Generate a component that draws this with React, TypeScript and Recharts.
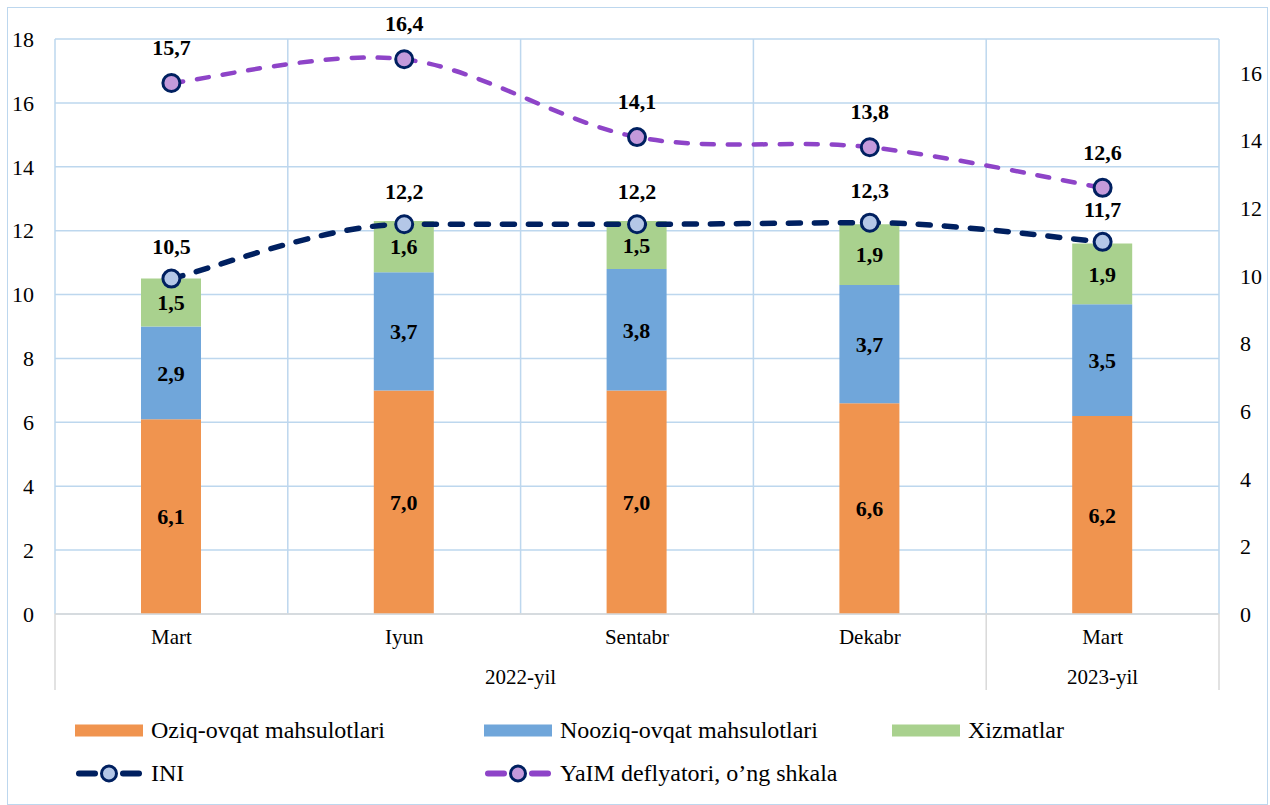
import React from "react";
import {
  ComposedChart,
  Bar,
  Line,
  XAxis,
  YAxis,
  CartesianGrid,
  LabelList,
} from "recharts";

const months = ["Mart", "Iyun", "Sentabr", "Dekabr", "Mart"];
const yearGroups = [
  { label: "2022-yil", span: 4 },
  { label: "2023-yil", span: 1 },
];
const food = [6.1, 7.0, 7.0, 6.6, 6.2];
const nonFood = [2.9, 3.7, 3.8, 3.7, 3.5];
const services = [1.5, 1.6, 1.5, 1.9, 1.9];
const ini = [10.5, 12.2, 12.2, 12.25, 11.65];
const deflator = [15.7, 16.4, 14.1, 13.8, 12.6];
const leftTicks = [0, 2, 4, 6, 8, 10, 12, 14, 16, 18];
const rightTicks = [0, 2, 4, 6, 8, 10, 12, 14, 16];

const FONT = '"Liberation Serif", "Times New Roman", serif';
const ORANGE = "#F0944F";
const BLUE = "#70A6DA";
const GREEN = "#A9D18E";
const NAVY = "#002060";
const PURPLE = "#8E44C8";
const GRID = "#BDD7EE";
const SEP = "#D9D9D9";

const CHART_W = 1259;
const CHART_H = 686;
const MARGIN = { top: 31, right: 8, bottom: 4, left: 7 };
const Y_W = 40;
const X_H = 76;
const PLOT_W = CHART_W - MARGIN.left - MARGIN.right - Y_W * 2;
const BAND = PLOT_W / months.length;

const data = months.map((m, i) => ({
  month: m,
  food: food[i],
  nonFood: nonFood[i],
  services: services[i],
  ini: ini[i],
  deflator: deflator[i],
}));

const groupStarts: number[] = [];
yearGroups.reduce((acc, g) => {
  groupStarts.push(acc);
  return acc + g.span;
}, 0);

const fmt = (v: any) => Number(v).toFixed(1).replace(".", ",");

// smoothed line like the spreadsheet one (bezier, 1/6 of neighbour distance),
// kept flat next to a flat segment so it doesn't bulge
const smoothCurve = (context: any) => {
  let pts: number[][] = [];
  const tangent = (i: number) => {
    const n = pts.length;
    const a = pts[Math.max(i - 1, 0)];
    const b = pts[Math.min(i + 1, n - 1)];
    let tx = (b[0] - a[0]) / 6;
    let ty = (b[1] - a[1]) / 6;
    const flatL = i > 0 && Math.abs(pts[i][1] - pts[i - 1][1]) < 2;
    const flatR = i < n - 1 && Math.abs(pts[i + 1][1] - pts[i][1]) < 2;
    if (flatL || flatR) ty = 0;
    return [tx, ty];
  };
  return {
    areaStart() {},
    areaEnd() {},
    lineStart() {
      pts = [];
    },
    point(x: number, y: number) {
      pts.push([+x, +y]);
    },
    lineEnd() {
      const n = pts.length;
      if (!n) return;
      context.moveTo(pts[0][0], pts[0][1]);
      for (let i = 0; i < n - 1; i++) {
        const p1 = pts[i];
        const p2 = pts[i + 1];
        const t1 = tangent(i);
        const t2 = tangent(i + 1);
        context.bezierCurveTo(p1[0] + t1[0], p1[1] + t1[1], p2[0] - t2[0], p2[1] - t2[1], p2[0], p2[1]);
      }
    },
  };
};

const MonthTick = (props: any) => {
  const { x, y, payload } = props;
  const i = payload.index;
  const gi = groupStarts.indexOf(i);
  const isLast = i === months.length - 1;
  return (
    <g>
      <text
        x={x}
        y={y + 23}
        dy="0.35em"
        textAnchor="middle"
        fontSize={21}
        fontFamily={FONT}
        fill="#000"
      >
        {payload.value}
      </text>
      {gi >= 0 && (
        <>
          <line x1={x - BAND / 2} x2={x - BAND / 2} y1={y} y2={y + X_H} stroke={SEP} strokeWidth={1.5} />
          <text
            x={x + ((yearGroups[gi].span - 1) * BAND) / 2}
            y={y + 63}
            dy="0.35em"
            textAnchor="middle"
            fontSize={21}
            fontFamily={FONT}
            fill="#000"
          >
            {yearGroups[gi].label}
          </text>
        </>
      )}
      {isLast && (
        <line x1={x + BAND / 2} x2={x + BAND / 2} y1={y} y2={y + X_H} stroke={SEP} strokeWidth={1.5} />
      )}
    </g>
  );
};

const labelStyle = { fontSize: 22, fontWeight: "bold", fontFamily: FONT };

const Swatch = ({ color }: { color: string }) => (
  <svg width={68} height={14}>
    <rect x={0} y={1} width={68} height={12} fill={color} />
  </svg>
);

const LineIcon = ({ color, fill, w }: { color: string; fill: string; w: number }) => (
  <svg width={68} height={22}>
    <line x1={4} x2={20} y1={11} y2={11} stroke={color} strokeWidth={w} strokeLinecap="round" />
    <line x1={48} x2={64} y1={11} y2={11} stroke={color} strokeWidth={w} strokeLinecap="round" />
    <circle cx={34} cy={11} r={7.5} fill={fill} stroke={NAVY} strokeWidth={3} />
  </svg>
);

const legendRows = [
  [
    { label: "Oziq-ovqat mahsulotlari", icon: <Swatch color={ORANGE} />, x: 67 },
    { label: "Nooziq-ovqat mahsulotlari", icon: <Swatch color={BLUE} />, x: 476 },
    { label: "Xizmatlar", icon: <Swatch color={GREEN} />, x: 884 },
  ],
  [
    { label: "INI", icon: <LineIcon color={NAVY} fill="#B4C7E7" w={6} />, x: 67 },
    { label: "YaIM deflyatori, o\u2019ng shkala", icon: <LineIcon color={PURPLE} fill="#C49ADB" w={6} />, x: 476 },
  ],
];

export default function App() {
  return (
    <div
      style={{
        position: "absolute",
        left: 7,
        top: 7,
        width: CHART_W + 2,
        height: 798,
        border: `1px solid ${GRID}`,
        boxSizing: "border-box",
        background: "#fff",
        fontFamily: FONT,
      }}
    >
      <ComposedChart width={CHART_W} height={CHART_H} data={data} margin={MARGIN}>
        <CartesianGrid
          yAxisId="left"
          stroke={GRID}
          strokeWidth={1.5}
          verticalCoordinatesGenerator={(p: any) => {
            const off = p.offset;
            return months.map((_, i) => off.left + i * BAND).concat(off.left + off.width);
          }}
        />
        <XAxis
          dataKey="month"
          height={X_H}
          tickSize={0}
          tickMargin={0}
          tickLine={false}
          axisLine={{ stroke: SEP, strokeWidth: 1.5 }}
          tick={<MonthTick />}
          interval={0}
        />
        <YAxis
          yAxisId="left"
          width={Y_W}
          domain={[0, 18]}
          ticks={leftTicks}
          axisLine={false}
          tickLine={false}
          tickSize={0}
          tickMargin={21}
          tick={{ fontSize: 22, fill: "#000", fontFamily: FONT }}
        />
        <YAxis
          yAxisId="right"
          orientation="right"
          width={Y_W}
          domain={[0, 17]}
          ticks={rightTicks}
          axisLine={false}
          tickLine={false}
          tickSize={0}
          tickMargin={21}
          tick={{ fontSize: 22, fill: "#000", fontFamily: FONT, textAnchor: "start" }}
        />
        <Bar dataKey="food" stackId="a" yAxisId="left" fill={ORANGE} barSize={60} isAnimationActive={false}>
          <LabelList dataKey="food" position="center" formatter={fmt} fill="#000" style={labelStyle} />
        </Bar>
        <Bar dataKey="nonFood" stackId="a" yAxisId="left" fill={BLUE} barSize={60} isAnimationActive={false}>
          <LabelList dataKey="nonFood" position="center" formatter={fmt} fill="#000" style={labelStyle} />
        </Bar>
        <Bar dataKey="services" stackId="a" yAxisId="left" fill={GREEN} barSize={60} isAnimationActive={false}>
          <LabelList dataKey="services" position="center" formatter={fmt} fill="#000" style={labelStyle} />
        </Bar>
        <Line
          dataKey="ini"
          yAxisId="left"
          type={smoothCurve as any}
          stroke={NAVY}
          strokeWidth={5.5}
          strokeDasharray="12 14"
          strokeLinecap="round"
          dot={{ r: 8.5, fill: "#B4C7E7", stroke: NAVY, strokeWidth: 3, strokeDasharray: "none" } as any}
          isAnimationActive={false}
        >
          <LabelList dataKey="ini" position="top" offset={25} formatter={fmt} fill="#000" style={labelStyle} />
        </Line>
        <Line
          dataKey="deflator"
          yAxisId="right"
          type={smoothCurve as any}
          stroke={PURPLE}
          strokeWidth={4.5}
          strokeDasharray="12 14"
          strokeLinecap="round"
          dot={{ r: 8.5, fill: "#C49ADB", stroke: NAVY, strokeWidth: 3, strokeDasharray: "none" } as any}
          isAnimationActive={false}
        >
          <LabelList dataKey="deflator" position="top" offset={28} formatter={fmt} fill="#000" style={labelStyle} />
        </Line>
      </ComposedChart>
      {legendRows.map((row, r) =>
        row.map((item) => (
          <div
            key={item.label}
            style={{
              position: "absolute",
              left: item.x,
              top: 722 + r * 43,
              transform: "translateY(-50%)",
              display: "flex",
              alignItems: "center",
              gap: 8,
              fontSize: 24,
              whiteSpace: "nowrap",
              color: "#000",
            }}
          >
            {item.icon}
            <span>{item.label}</span>
          </div>
        ))
      )}
    </div>
  );
}
